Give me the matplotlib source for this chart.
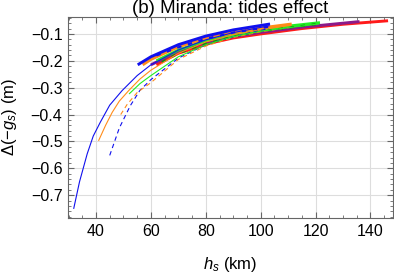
import matplotlib
matplotlib.use("Agg")
import matplotlib.pyplot as plt
from matplotlib.ticker import MultipleLocator

plt.rcParams['font.family'] = ['Liberation Sans', 'DejaVu Sans']
plt.rcParams['mathtext.fontset'] = 'custom'
plt.rcParams['mathtext.rm'] = 'Liberation Sans'
plt.rcParams['mathtext.it'] = 'Liberation Sans:italic'

title = "(b) Miranda: tides effect"
xlabel = r"$h_s$ (km)"
ylabel = r"$\Delta(-g_s)$ (m)"

# thick curves
red_x = [62, 70, 82, 90, 100, 115, 130, 146.4]
red_y = [-0.215, -0.172, -0.133, -0.115, -0.100, -0.080, -0.064, -0.051]
purple_x = [60, 70, 80, 90, 100, 115, 136]
purple_y = [-0.215, -0.165, -0.130, -0.110, -0.094, -0.075, -0.054]
green_x = [62, 70, 80, 90, 100, 110, 121.6]
green_y = [-0.200, -0.160, -0.125, -0.103, -0.085, -0.071, -0.058]
orange_x = [57, 60, 70, 80, 90, 100, 111.3]
orange_y = [-0.215, -0.195, -0.148, -0.116, -0.095, -0.078, -0.063]
blue_x = [55.2, 60, 70, 80, 90, 103.4]
blue_y = [-0.215, -0.185, -0.140, -0.108, -0.085, -0.063]
bluedash_x = [62, 70, 80, 90, 103]
bluedash_y = [-0.180, -0.150, -0.118, -0.095, -0.074]
greendash_x = [64, 70, 80, 90, 100, 120]
greendash_y = [-0.205, -0.172, -0.134, -0.108, -0.090, -0.064]

# thin curves
tblue_x = [31.9, 34.0, 36.8, 39.0, 41.6, 45.0, 49.5, 55, 60, 70, 80, 90, 103]
tblue_y = [-0.749, -0.650, -0.546, -0.480, -0.428, -0.365, -0.311, -0.255, -0.215, -0.160, -0.122, -0.095, -0.070]
torange_x = [41.0, 43.5, 45.9, 48.5, 51.9, 56, 60, 70, 80, 90, 100, 111]
torange_y = [-0.496, -0.440, -0.392, -0.350, -0.311, -0.268, -0.235, -0.172, -0.130, -0.103, -0.085, -0.068]
tbluedash_x = [45.0, 48.5, 52.5, 56, 60, 70, 80, 90, 103]
tbluedash_y = [-0.552, -0.450, -0.367, -0.310, -0.270, -0.190, -0.140, -0.110, -0.080]
torangedash_x = [49.0, 51.3, 55, 59.8, 70, 80, 90, 100, 111]
torangedash_y = [-0.400, -0.363, -0.318, -0.283, -0.195, -0.145, -0.113, -0.092, -0.075]
tgreen_x = [52.2, 56, 60, 70, 80, 90, 100, 121]
tgreen_y = [-0.322, -0.285, -0.255, -0.185, -0.140, -0.110, -0.090, -0.063]

BLUE = '#1010ee'
ORANGE = '#ff8c1a'
GREEN = '#22ee22'
PURPLE = '#8a1a8a'
RED = '#ff1a1a'

fig = plt.figure(figsize=(3.94, 2.73), dpi=100)
ax = fig.add_axes([68/394, 1-218/273, 325/394, 201/273])

thick = 2.1
thin = 0.8
ax.plot(red_x, red_y, color=RED, lw=thick, solid_capstyle='butt')
ax.plot(purple_x, purple_y, color=PURPLE, lw=thick, solid_capstyle='butt')
ax.plot(green_x, green_y, color=GREEN, lw=thick, solid_capstyle='butt')
ax.plot(greendash_x, greendash_y, color='#118811', lw=1.6, dashes=(2, 3))
ax.plot(orange_x, orange_y, color=ORANGE, lw=thick, solid_capstyle='butt')
ax.plot(bluedash_x, bluedash_y, color=BLUE, lw=1.6, dashes=(2, 3))
ax.plot(blue_x, blue_y, color=BLUE, lw=thick, solid_capstyle='butt')

ax.plot(tblue_x, tblue_y, color=BLUE, lw=thin)
ax.plot(torange_x, torange_y, color=ORANGE, lw=thin)
ax.plot(tbluedash_x, tbluedash_y, color=BLUE, lw=thin, dashes=(4, 3))
ax.plot(torangedash_x, torangedash_y, color=ORANGE, lw=thin, dashes=(4, 3))
ax.plot(tgreen_x, tgreen_y, color=GREEN, lw=thin)

ax.set_xlim(29.8, 148.2)
ax.set_ylim(-0.785, -0.037)
ax.xaxis.set_major_locator(MultipleLocator(20))
ax.xaxis.set_minor_locator(MultipleLocator(5))
ax.yaxis.set_minor_locator(MultipleLocator(0.02))
ax.set_yticks([-0.7, -0.6, -0.5, -0.4, -0.3, -0.2, -0.1])
ax.set_yticklabels(['−0.7', '−0.6', '−0.5', '−0.4', '−0.3', '−0.2', '−0.1'])
ax.grid(True, which='major', color='#dddddd', lw=0.8)
ax.set_axisbelow(True)
ax.tick_params(which='both', direction='in', top=True, right=True,
               color='#666666', labelsize=11.5, pad=4)
ax.tick_params(which='major', length=4, width=0.8)
ax.tick_params(which='minor', length=2, width=0.6)
ax.tick_params(axis='both', which='both', labeltop=False, labelright=False)
for s in ax.spines.values():
    s.set_color('#666666')
    s.set_linewidth(0.8)

ax.set_title(title, fontsize=13.5, pad=1)
ax.set_xlabel(xlabel, fontsize=12)
ax.set_ylabel(ylabel, fontsize=12)
ax.xaxis.set_label_coords(0.5, -0.185)
ax.yaxis.set_label_coords(-0.15, 0.5)

fig.savefig('out.png', dpi=100)
